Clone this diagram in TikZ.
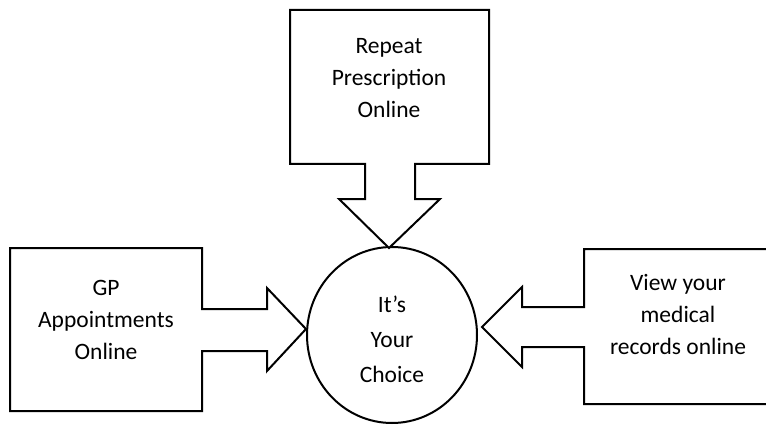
\documentclass[tikz,border=0pt]{standalone}
\usepackage{fontspec}
\setmainfont{Carlito}
\usetikzlibrary{shapes.geometric}
\begin{document}
\begin{tikzpicture}[x=1pt,y=-1pt,
  callout/.style={draw=black,line width=2pt,fill=white,line join=miter},
  label/.style={align=center,inner sep=0pt,font=\fontsize{23.5}{32}\selectfont},
]
\useasboundingbox (0,0) rectangle (766,425);
% central circle
\node[ellipse,draw=black,line width=2pt,minimum width=170pt,minimum height=176pt,inner sep=0pt] (hub) at (392,335) {};
\node[label,font=\fontsize{23.5}{35}\selectfont] (hubtext) at (392,339) {It’s\\Your\\Choice};
% top callout
\draw[callout] (290,10) coordinate (tbox) -- (489,10) -- (489,164) -- (415,164) -- (415,199) -- (440,199)
  -- (389,248) coordinate (ttip) -- (339,199) -- (365,199) -- (365,164) -- (290,164) -- cycle;
\node[label] (toptext) at (389,78) {Repeat\\Prescription\\Online};
% left callout
\draw[callout] (10,248) coordinate (lbox) -- (202,248) -- (202,309) -- (267,309) -- (267,288)
  -- (306,329) coordinate (ltip) -- (267,371) -- (267,351) -- (202,351) -- (202,411) -- (10,411) -- cycle;
\node[label] (lefttext) at (106,320) {GP\\Appointments\\Online};
% right callout
\draw[callout] (772,249) coordinate (rbox) -- (584,249) -- (584,307) -- (522,307) -- (522,287)
  -- (482,327) coordinate (rtip) -- (522,367) -- (522,347) -- (584,347) -- (584,404) -- (772,404);
\node[label] (righttext) at (678,315) {View your\\medical\\records online};
\end{tikzpicture}
\end{document}
